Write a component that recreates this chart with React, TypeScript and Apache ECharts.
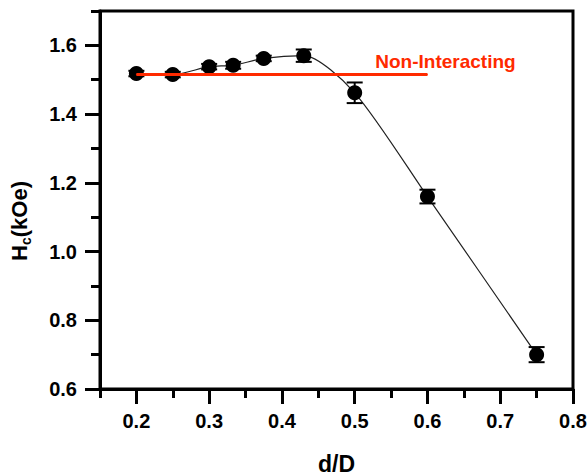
import React, { useEffect, useRef } from 'react';
import * as echarts from 'echarts';

const dOverD = [0.2, 0.25, 0.3, 0.333, 0.375, 0.43, 0.5, 0.6, 0.75];
const hcValues = [1.518, 1.515, 1.538, 1.542, 1.562, 1.57, 1.462, 1.16, 0.7];
const hcErrors = [0.008, 0.008, 0.008, 0.01, 0.008, 0.018, 0.03, 0.02, 0.022];
const nonInteractingX = [0.2, 0.6];
const nonInteractingHc = 1.515;
const nonInteractingLabel = 'Non-Interacting';
const xMajorTicks = [0.2, 0.3, 0.4, 0.5, 0.6, 0.7, 0.8];
const xMinorTicks = [0.15, 0.25, 0.35, 0.45, 0.55, 0.65, 0.75];
const yMajorTicks = [0.6, 0.8, 1.0, 1.2, 1.4, 1.6];
const yMinorTicks = [0.7, 0.9, 1.1, 1.3, 1.5, 1.7];

const FONT = 'Arial, "Liberation Sans", Helvetica, sans-serif';
const RED = '#ff2a00';

export default function App() {
  const ref = useRef<HTMLDivElement>(null);
  useEffect(() => {
    if (!ref.current) return;
    const chart = echarts.init(ref.current, null, { renderer: 'svg' });
    const xRange = { min: 0.15, max: 0.8 };
    const yRange = { min: 0.6, max: 1.7 };
    const tickStyle = { color: '#000', width: 3 };
    chart.setOption({
      animation: false,
      backgroundColor: '#fff',
      grid: {
        left: 100, right: 14, top: 11, bottom: 86,
        outerBoundsMode: 'none',
        containLabel: false,
        show: true, borderColor: '#000', borderWidth: 3, backgroundColor: 'transparent',
      },
      xAxis: [
        {
          type: 'value', ...xRange, position: 'bottom',
          name: 'd/D', nameLocation: 'middle', nameGap: 63,
          nameTextStyle: { fontFamily: FONT, fontSize: 23, fontWeight: 'bold', color: '#000' },
          axisLine: { show: true, lineStyle: { color: '#000', width: 3 } },
          axisTick: { show: true, length: 15, lineStyle: tickStyle, customValues: xMajorTicks },
          axisLabel: {
            show: true, customValues: xMajorTicks, margin: 22,
            fontFamily: FONT, fontSize: 20, fontWeight: 'bold', color: '#000',
            formatter: (v: number) => v.toFixed(1),
          },
          splitLine: { show: false },
        },
        {
          type: 'value', ...xRange, position: 'bottom', offset: 0,
          axisLine: { show: false },
          axisTick: { show: true, length: 9, lineStyle: tickStyle, customValues: xMinorTicks },
          axisLabel: { show: false, customValues: xMinorTicks },
          splitLine: { show: false },
        },
      ],
      yAxis: [
        {
          type: 'value', ...yRange, position: 'left',
          axisLine: { show: true, lineStyle: { color: '#000', width: 3 } },
          axisTick: { show: true, length: 15, lineStyle: tickStyle, customValues: yMajorTicks },
          axisLabel: {
            show: true, customValues: yMajorTicks, margin: 23,
            fontFamily: FONT, fontSize: 20, fontWeight: 'bold', color: '#000',
            formatter: (v: number) => v.toFixed(1),
          },
          splitLine: { show: false },
        },
        {
          type: 'value', ...yRange, position: 'left', offset: 0,
          axisLine: { show: false },
          axisTick: { show: true, length: 9, lineStyle: tickStyle, customValues: yMinorTicks },
          axisLabel: { show: false, customValues: yMinorTicks },
          splitLine: { show: false },
        },
      ],
      graphic: [
        {
          type: 'text', x: 19, y: 221, rotation: Math.PI / 2,
          style: {
            text: '{a|H}{b|c}{a|(kOe)}',
            align: 'center', verticalAlign: 'middle',
            fill: '#000',
            rich: {
              a: { fontFamily: FONT, fontSize: 22, fontWeight: 'bold', lineHeight: 28, fill: '#000' },
              b: { fontFamily: FONT, fontSize: 14, fontWeight: 'bold', verticalAlign: 'bottom', fill: '#000' },
            },
          },
        },
      ],
      series: [
        {
          type: 'line',
          data: dOverD.map((x, i) => [x, hcValues[i]]),
          smooth: 0.25,
          symbol: 'circle', symbolSize: 15,
          itemStyle: { color: '#000' },
          lineStyle: { color: '#222', width: 1.2 },
          z: 3,
        },
        {
          type: 'custom',
          data: dOverD.map((x, i) => [x, hcValues[i] - hcErrors[i], hcValues[i] + hcErrors[i]]),
          encode: { x: 0, y: [1, 2] },
          renderItem: (_params: any, api: any) => {
            const x = api.value(0);
            const lo = api.coord([x, api.value(1)]);
            const hi = api.coord([x, api.value(2)]);
            const hw = 8;
            const style = { stroke: '#000', lineWidth: 2 };
            return {
              type: 'group',
              children: [
                { type: 'line', shape: { x1: lo[0], y1: lo[1], x2: hi[0], y2: hi[1] }, style },
                { type: 'line', shape: { x1: lo[0] - hw, y1: lo[1], x2: lo[0] + hw, y2: lo[1] }, style },
                { type: 'line', shape: { x1: hi[0] - hw, y1: hi[1], x2: hi[0] + hw, y2: hi[1] }, style },
              ],
            };
          },
          z: 4,
        },
        {
          type: 'line',
          data: [
            [nonInteractingX[0], nonInteractingHc],
            {
              value: [nonInteractingX[1], nonInteractingHc],
              label: {
                show: true, position: 'top', distance: 3, offset: [18, 0],
                formatter: nonInteractingLabel,
                fontFamily: FONT, fontSize: 19, fontWeight: 'bold', color: RED,
              },
            },
          ],
          symbol: 'circle', symbolSize: 1,
          itemStyle: { color: RED },
          lineStyle: { color: RED, width: 3 },
          z: 6,
        },
      ],
    });
    return () => chart.dispose();
  }, []);
  return <div ref={ref} style={{ position: 'fixed', left: 0, top: 0, width: 587, height: 475 }} />;
}
